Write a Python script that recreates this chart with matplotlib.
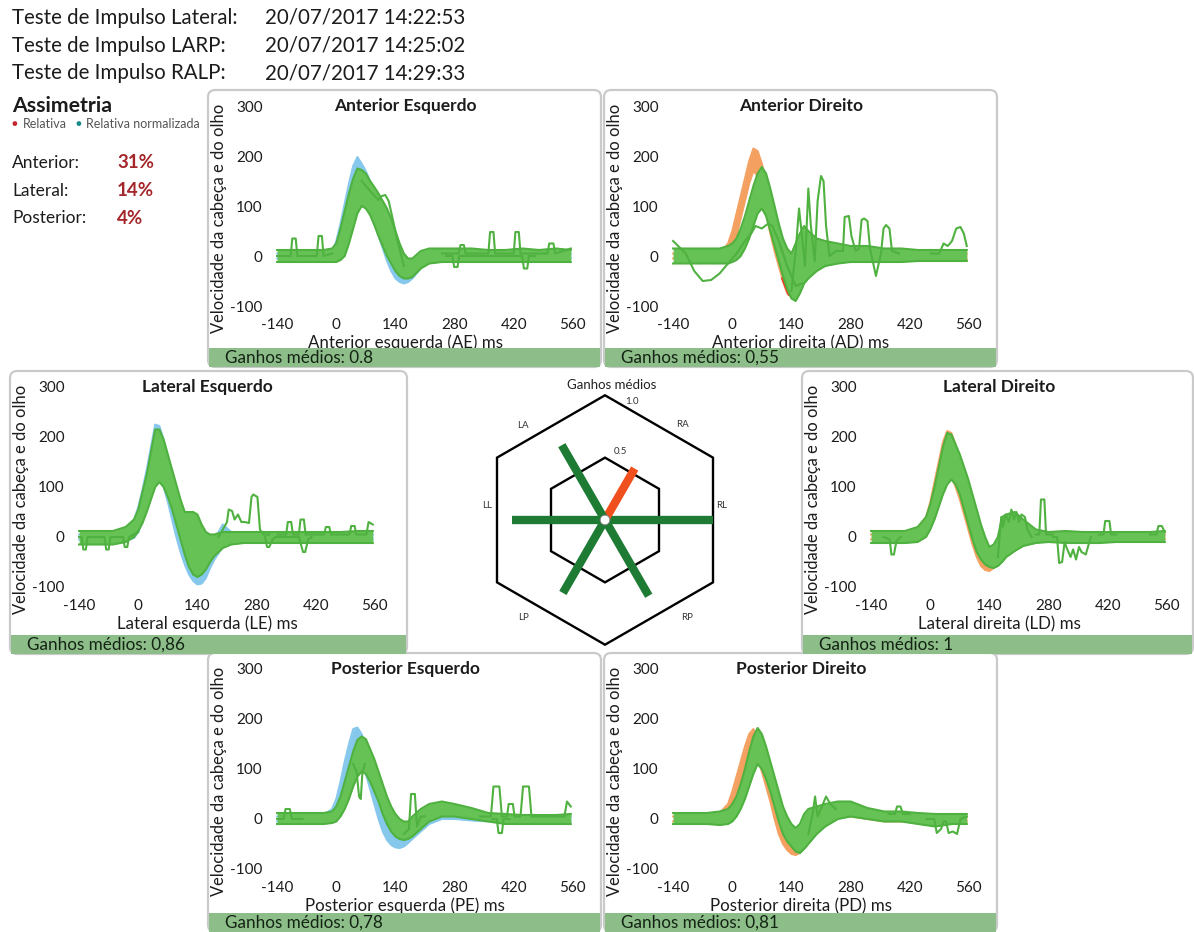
import matplotlib
matplotlib.use('Agg')
import matplotlib.pyplot as plt
from matplotlib.patches import FancyBboxPatch, Rectangle, Circle, Polygon
import numpy as np

# ---------------------------------------------------------------- data
T = [-140, -100, -60, -30, -10, 0, 10, 20, 30, 40, 50, 60, 70, 80, 90, 100, 110, 120,
     130, 140, 150, 160, 170, 180, 200, 220, 250, 280, 320, 360, 400, 440, 480, 520, 555]

x_ticks = [-140, 0, 140, 280, 420, 560]
y_ticks = [-100, 0, 100, 200, 300]

# Anterior Esquerdo (head = blue)
ae_head_hi = [5, 5, 5, 5, 8, 30, 65, 105, 145, 180, 198, 185, 170, 150, 135, 118, 100, 80,
              55, 30, 5, -15, -20, -20, -5, 5, 5, 5, 5, 5, 5, 5, 5, 5, 5]
ae_head_lo = [-5, -5, -5, -5, -5, -5, 5, 20, 45, 80, 110, 120, 110, 90, 65, 40, 15, -10,
              -30, -45, -52, -55, -52, -45, -25, -10, -5, -5, -5, -5, -5, -5, -5, -5, -5]
ae_eye_hi = [12, 12, 12, 12, 15, 25, 55, 90, 125, 155, 175, 172, 165, 150, 138, 125, 110, 95,
             75, 50, 25, 5, -5, -5, 10, 15, 15, 15, 15, 12, 12, 15, 12, 15, 12]
ae_eye_lo = [-12, -12, -12, -12, -12, -12, -8, 0, 25, 55, 85, 100, 95, 82, 62, 40, 20, 0,
             -15, -30, -40, -45, -45, -42, -25, -15, -12, -12, -12, -12, -12, -12, -12, -12, -12]
ae_extra = [
    ([-140, -108, -104, -96, -92, -46, -42, -34, -30, -10], [0, 0, 35, 35, 0, 0, 40, 40, 0, 5]),
    ([60, 80, 100, 108, 116, 124, 132, 145, 160], [150, 130, 112, 120, 122, 110, 80, 30, -20]),
    ([250, 290, 294, 302, 306, 360, 364, 372, 376, 420, 424, 432, 436, 500, 504, 514, 518, 555],
     [5, 5, 22, 22, 5, 5, 48, 48, 5, 5, 48, 48, 5, 5, 25, 25, 5, 15]),
    ([260, 275, 279, 287, 291, 440, 444, 452, 456, 470], [0, 0, -22, -22, 0, 0, -25, -25, 0, 0]),
]

# Anterior Direito (head = orange)
ad_head_hi = [5, 5, 5, 5, 25, 50, 85, 120, 155, 190, 215, 210, 185, 150, 110, 70, 35, 5,
              -25, -40, -35, -20, -10, -5, 5, 20, 10, 8, 5, 5, 5, 5, 5, 5, 5]
ad_head_lo = [-5, -8, -12, -8, 0, 15, 40, 75, 110, 145, 170, 160, 125, 85, 45, 10, -20, -50,
              -75, -82, -70, -50, -35, -25, -15, -10, -10, -8, -8, -8, -8, -8, -8, -8, -8]
ad_eye_hi = [15, 15, 15, 15, 20, 25, 35, 55, 80, 110, 140, 165, 178, 165, 135, 100, 65, 35,
             15, 5, 25, 45, 60, 50, 35, 30, 25, 20, 20, 15, 15, 12, 12, 12, 12]
ad_eye_lo = [-15, -15, -15, -15, -15, -12, -8, 0, 15, 35, 60, 85, 95, 80, 50, 20, -10, -40,
             -65, -85, -90, -75, -55, -45, -30, -20, -15, -12, -12, -12, -12, -10, -10, -10, -10]
ad_extra = [
    ([140, 150, 158, 165, 172, 180, 186, 195, 202, 210, 216, 222, 230, 245],
     [-70, 10, 95, 40, -20, 135, 60, -10, 110, 160, 150, 60, 0, 10]),
    ([-140, -110, -90, -70, -50, -30, -10, 10, 30, 45, 55, 70, 85, 95, 110, 130, 150, 165],
     [30, 5, -30, -50, -48, -35, -15, 5, 30, 45, 60, 55, 65, 60, 30, -20, -60, -55]),
    ([250, 262, 266, 276, 282, 292, 300, 306, 312, 320, 326, 340, 352, 358, 364, 372, 378, 395],
     [10, 10, 78, 80, 40, 10, 15, 72, 75, 70, 15, -40, 5, 55, 62, 55, 10, 5]),
    ([470, 490, 500, 510, 520, 530, 540, 548, 555], [5, 5, 25, 20, 30, 55, 58, 45, 20]),
]
ad_red = ([118, 126, 134, 142, 150], [-45, -62, -78, -70, -50])

# Lateral Esquerdo (head = blue)
le_head_hi = [5, 5, 5, 15, 35, 60, 95, 135, 180, 225, 222, 195, 160, 120, 85, 50, 20, -10,
              -35, -50, -50, -35, -15, -5, 25, 10, 5, 5, 5, 5, 5, 5, 5, 5, 5]
le_head_lo = [-5, -5, -5, -8, -2, 10, 30, 55, 85, 115, 120, 100, 70, 35, 0, -30, -55, -75,
              -88, -95, -93, -82, -62, -45, -20, -10, -5, -5, -5, -5, -5, -5, -5, -5, -5]
le_eye_hi = [12, 12, 12, 20, 35, 55, 90, 125, 170, 215, 215, 195, 165, 135, 105, 75, 50, 50,
             50, 45, 25, 10, 5, 5, 10, 10, 10, 10, 10, 10, 10, 10, 10, 12, 12]
le_eye_lo = [-15, -15, -15, -10, 0, 12, 28, 50, 75, 100, 110, 100, 80, 55, 25, -5, -35, -60,
             -75, -80, -75, -65, -50, -38, -22, -15, -12, -12, -12, -12, -12, -12, -12, -12, -12]
le_extra = [
    ([-140, -134, -130, -124, -120, -80, -76, -70, -66, -36, -32, -26, -22, 0],
     [0, 0, -25, -25, 0, 0, -25, -25, 0, 0, -20, -20, 0, 10]),
    ([190, 200, 210, 214, 222, 228, 236, 244, 252, 262, 268, 272, 282, 288, 296, 310],
     [0, 15, 30, 55, 52, 35, 45, 30, 30, 28, 80, 85, 80, 15, 5, 5]),
    ([330, 350, 354, 362, 366, 380, 384, 392, 396, 440, 444, 452, 456, 500, 504, 512, 516, 540, 545, 555],
     [5, 5, 30, 30, 5, 5, 35, 35, 5, 5, 20, 20, 5, 5, 22, 22, 5, 5, 30, 25]),
    ([300, 305, 310, 318, 325, 380, 390, 395, 402, 410], [0, -20, -20, -5, 0, 0, -30, -30, -5, 0]),
]

# Lateral Direito (head = orange)
ld_head_hi = [5, 5, 5, 15, 40, 70, 110, 150, 190, 212, 208, 185, 150, 115, 80, 45, 15, -10,
              -30, -40, -35, -20, -10, -5, 0, 5, 5, 10, 10, 5, 5, 5, 5, 5, 5]
ld_head_lo = [-5, -5, -5, -5, 5, 20, 45, 75, 105, 125, 120, 100, 75, 45, 15, -15, -40, -58,
              -66, -68, -62, -50, -35, -25, -15, -10, -5, -5, -5, -5, -5, -5, -5, -5, -5]
ld_eye_hi = [12, 12, 12, 20, 40, 65, 100, 140, 180, 208, 205, 185, 165, 140, 115, 85, 55, 25,
             0, -20, -15, 0, 40, 45, 50, 35, 15, 10, 12, 10, 10, 10, 10, 10, 12]
ld_eye_lo = [-12, -12, -12, -10, 0, 15, 35, 60, 85, 105, 115, 105, 85, 55, 25, -5, -30, -45,
             -55, -60, -62, -58, -50, -40, -28, -18, -12, -10, -12, -12, -12, -10, -10, -10, -10]
ld_extra = [
    ([-110, -96, -92, -86, -80, -70], [0, -5, -35, -35, -8, 0]),
    ([160, 168, 172, 178, 186, 192, 198, 204, 210, 216, 224, 230, 240],
     [-40, 40, 20, 45, 30, 55, 35, 50, 30, 45, 40, 15, 0]),
    ([250, 258, 262, 270, 274, 290], [5, 5, 75, 75, 5, 5]),
    ([290, 300, 305, 312, 318, 322, 332, 338, 345, 352, 358, 368, 380],
     [0, 0, -52, -50, -10, -20, -40, -25, -45, -20, -30, -35, 0]),
    ([400, 410, 414, 424, 428, 440], [5, 5, 32, 32, 5, 5]),
    ([520, 535, 540, 548, 555], [5, 5, 22, 22, 10]),
]

# Posterior Esquerdo (head = blue)
pe_head_hi = [5, 5, 5, 8, 20, 40, 75, 115, 150, 180, 183, 170, 145, 115, 85, 55, 25, 0,
              -20, -35, -42, -42, -35, -25, -8, 10, 20, 20, 15, 8, 5, 5, 5, 5, 5]
pe_head_lo = [-5, -5, -5, -3, 0, 10, 30, 60, 90, 115, 125, 115, 90, 60, 30, 0, -25, -42,
              -52, -57, -58, -55, -48, -40, -25, -10, 0, 0, -3, -5, -5, -5, -5, -5, -5]
pe_eye_hi = [12, 12, 12, 12, 15, 25, 45, 75, 105, 135, 158, 165, 160, 140, 120, 95, 70, 45,
             25, 10, 0, -5, -5, 5, 20, 30, 35, 30, 22, 12, 10, 8, 8, 8, 10]
pe_eye_lo = [-10, -10, -10, -10, -8, -5, 5, 20, 40, 65, 85, 95, 90, 75, 55, 35, 10, -10,
             -25, -35, -40, -42, -40, -35, -20, -5, 5, 5, 0, -5, -10, -10, -10, -10, -10]
pe_extra = [
    ([40, 48, 54, 58, 62, 68], [110, 95, 45, 40, 95, 110]),
    ([160, 172, 177, 186, 191, 200, 210], [-30, -20, 50, 50, -15, 5, 5]),
    ([340, 366, 372, 386, 392, 404, 408, 418, 422, 436, 442, 456, 462, 480, 540, 546, 555],
     [5, 5, 65, 65, 5, 5, 30, 30, 5, 5, 65, 65, 5, 5, 5, 35, 25]),
    ([370, 380, 384, 392, 396, 410], [0, 0, -28, -28, 0, 0]),
    ([-140, -125, -120, -110, -105, -80], [0, 0, 20, 20, 0, 0]),
]

# Posterior Direito (head = orange)
pd_head_hi = [5, 5, 5, 12, 30, 55, 85, 115, 145, 170, 180, 165, 140, 110, 80, 45, 15, -15,
              -35, -50, -55, -45, -30, -15, 0, 15, 25, 25, 15, 5, 5, 5, 5, 5, 5]
pd_head_lo = [-5, -5, -5, 0, 8, 25, 45, 70, 100, 125, 135, 120, 95, 65, 35, 0, -30, -50,
              -62, -70, -72, -68, -55, -40, -20, -5, 5, 5, 0, -5, -5, -5, -5, -5, -5]
pd_eye_hi = [12, 12, 12, 15, 20, 30, 45, 70, 100, 135, 165, 182, 170, 145, 115, 85, 55, 25,
             5, -10, -18, -10, 10, 20, 25, 30, 35, 35, 22, 15, 15, 12, 10, 10, 10]
pd_eye_lo = [-10, -10, -10, -12, -10, -5, 5, 20, 40, 65, 90, 110, 100, 80, 55, 25, -5, -30,
             -45, -55, -65, -68, -60, -50, -30, -15, 0, 5, 0, -5, -5, -10, -15, -10, -10]
pd_extra = [
    ([180, 190, 196, 202, 212, 222, 232, 245], [-30, 10, 45, 5, 25, 45, 30, 20]),
    ([460, 478, 484, 494, 500, 506, 512, 522, 532, 540, 555], [0, 0, -28, -20, -5, -5, -28, -25, -30, 0, 5]),
    ([370, 385, 390, 398, 404, 420], [10, 10, 25, 25, 10, 10]),
]

# radar (Ganhos médios)
radar_labels = ['RL', 'RA', 'LA', 'LL', 'LP', 'RP']
radar_angles = [0, 60, 120, 180, 240, 300]
radar_gains = [1.0, 0.55, 0.8, 0.86, 0.78, 0.81]
radar_levels = [0.5, 1.0]

header_names = ['Teste de Impulso Lateral:', 'Teste de Impulso LARP:', 'Teste de Impulso RALP:']
header_dates = ['20/07/2017 14:22:53', '20/07/2017 14:25:02', '20/07/2017 14:29:33']
asym_names = ['Anterior:', 'Lateral:', 'Posterior:']
asym_values = ['31%', '14%', '4%']

# ---------------------------------------------------------------- style
plt.rcParams['font.family'] = ['Lato', 'DejaVu Sans']
plt.rcParams['axes.unicode_minus'] = False
W, H = 1194, 932
fig = plt.figure(figsize=(W / 100, H / 100), dpi=100)
fig.patch.set_facecolor('white')

BLUE = '#86c8ec'
ORANGE = '#f3a060'
GREEN = '#66c255'
GREEN_EDGE = '#4fb13f'
FOOT = '#8dbd89'
TXT = '#1c1c1c'


def fx(x):
    return x / W


def fy(y):
    return 1 - y / H


def add_panel(left, top, width, height, title, xlabel, gain, head_c,
              head_hi, head_lo, eye_hi, eye_lo, extras, red=None):
    frame = FancyBboxPatch((fx(left), fy(top + height)), width / W, height / H,
                           boxstyle='round,pad=0,rounding_size=0.006',
                           mutation_aspect=W / H,
                           transform=fig.transFigure, fc='white', ec='#cacaca',
                           lw=1.6, zorder=-1)
    fig.patches.append(frame)
    foot = Rectangle((fx(left + 1), fy(top + height)), (width - 2) / W, 19 / H,
                     transform=fig.transFigure, fc=FOOT, ec='none', zorder=4)
    fig.patches.append(foot)
    fig.text(fx(left + 17), fy(top + height - 9), gain, fontsize=12.3, color='#142414',
             va='center', ha='left', zorder=5)
    ax_l, ax_t = left + 67, top + 13.5
    ax = fig.add_axes([fx(ax_l), fy(ax_t + 205), 300 / W, 205 / H])
    ax.set_facecolor('none')
    ax.fill_between(T, head_lo, head_hi, color=head_c, lw=0, zorder=1.0)
    ax.plot(T, head_hi, color=head_c, lw=1.4, zorder=1.1)
    ax.plot(T, head_lo, color=head_c, lw=1.4, zorder=1.1)
    if red is not None:
        ax.plot(red[0], red[1], color='#e8412a', lw=1.6, zorder=1.2)
    ax.fill_between(T, eye_lo, eye_hi, color=GREEN, lw=0, zorder=1.3)
    ax.plot(T, eye_hi, color=GREEN_EDGE, lw=1.5, zorder=1.4)
    ax.plot(T, eye_lo, color=GREEN_EDGE, lw=1.5, zorder=1.4)
    for tx, vy in extras:
        ax.plot(tx, vy, color=GREEN_EDGE, lw=1.5, zorder=1.5)
    ax.set_xlim(-145, 565)
    ax.set_ylim(-105, 305)
    ax.set_xticks(x_ticks)
    ax.set_yticks(y_ticks)
    ax.tick_params(length=0, labelsize=11, labelcolor=TXT)
    ax.tick_params(axis='y', pad=9)
    ax.tick_params(axis='x', pad=7)
    for s in ax.spines.values():
        s.set_visible(False)
    cx = left + 197
    fig.text(fx(cx), fy(top + 16), title, fontsize=12.5, fontweight='bold',
             color=TXT, ha='center', va='center')
    fig.text(fx(cx), fy(top + 253), xlabel, fontsize=12.2, color=TXT,
             ha='center', va='center', zorder=3)
    fig.text(fx(left + 11), fy(top + 128), 'Velocidade da cabeça e do olho',
             fontsize=11.9, color=TXT, rotation=90, ha='center', va='center')
    return ax


add_panel(208, 90, 393, 277, 'Anterior Esquerdo', 'Anterior esquerda (AE) ms',
          'Ganhos médios: 0.8', BLUE, ae_head_hi, ae_head_lo, ae_eye_hi, ae_eye_lo, ae_extra)
add_panel(604, 90, 393, 277, 'Anterior Direito', 'Anterior direita (AD) ms',
          'Ganhos médios: 0,55', ORANGE, ad_head_hi, ad_head_lo, ad_eye_hi, ad_eye_lo, ad_extra,
          red=ad_red)
add_panel(10, 371, 397, 283, 'Lateral Esquerdo', 'Lateral esquerda (LE) ms',
          'Ganhos médios: 0,86', BLUE, le_head_hi, le_head_lo, le_eye_hi, le_eye_lo, le_extra)
add_panel(802, 371, 391, 283, 'Lateral Direito', 'Lateral direita (LD) ms',
          'Ganhos médios: 1', ORANGE, ld_head_hi, ld_head_lo, ld_eye_hi, ld_eye_lo, ld_extra)
add_panel(208, 653, 393, 279, 'Posterior Esquerdo', 'Posterior esquerda (PE) ms',
          'Ganhos médios: 0,78', BLUE, pe_head_hi, pe_head_lo, pe_eye_hi, pe_eye_lo, pe_extra)
add_panel(604, 653, 393, 279, 'Posterior Direito', 'Posterior direita (PD) ms',
          'Ganhos médios: 0,81', ORANGE, pd_head_hi, pd_head_lo, pd_eye_hi, pd_eye_lo, pd_extra)

# ---------------------------------------------------------------- radar
rax = fig.add_axes([fx(475), fy(650), 260 / W, 260 / H])
lim = 130 / 108
rax.set_xlim(-lim, lim)
rax.set_ylim(-lim, lim)
rax.set_aspect('equal')
rax.axis('off')
vert_ang = np.deg2rad(np.arange(90, 450, 60))
for lv in radar_levels:
    r = lv / np.cos(np.deg2rad(30))
    rax.add_patch(Polygon(np.column_stack([r * np.cos(vert_ang), r * np.sin(vert_ang)]),
                          closed=True, fill=False, ec='black', lw=1.7, zorder=2))
for ang, g in zip(radar_angles, radar_gains):
    a = np.deg2rad(ang)
    col = '#f0501e' if g < 0.7 else '#1e7b34'
    rax.plot([0, g * np.cos(a)], [0, g * np.sin(a)], color=col, lw=6,
             solid_capstyle='butt', zorder=3)
rax.add_patch(Circle((0, 0), 0.045, fc='white', ec='#777777', lw=0.6, zorder=5))
label_pos = {'LA': (131, 1.16), 'RA': (51, 1.14), 'RL': (7, 1.09), 'LL': (173, 1.10),
             'LP': (230, 1.18), 'RP': (310, 1.18)}
for lab in radar_labels:
    ang, rr = label_pos[lab]
    a = np.deg2rad(ang)
    rax.text(rr * np.cos(a), rr * np.sin(a), lab, fontsize=7, color='#333333',
             ha='center', va='center')
rax.text(0.25, 1.10, '1.0', fontsize=7, color='#333333', ha='center', va='center')
rax.text(0.14, 0.63, '0.5', fontsize=7, color='#333333', ha='center', va='center')
fig.text(fx(612), fy(385), 'Ganhos médios', fontsize=9.5, color='#222222',
         ha='center', va='center')

# ---------------------------------------------------------------- header
for i, (n, d) in enumerate(zip(header_names, header_dates)):
    yy = 18 + i * 27.5
    fig.text(fx(12), fy(yy), n, fontsize=14.8, color=TXT, ha='left', va='center')
    fig.text(fx(265), fy(yy), d, fontsize=14.8, color=TXT, ha='left', va='center')

fig.text(fx(12), fy(106), 'Assimetria', fontsize=15.3, fontweight='bold', color=TXT,
         ha='left', va='center')
fig.text(fx(11), fy(124), '●', fontsize=7, color='#c0282d', ha='left', va='center', zorder=-2)
fig.text(fx(23), fy(124.5), 'Relativa', fontsize=9, color='#555555', ha='left', va='center', zorder=-2)
fig.text(fx(76), fy(124), '●', fontsize=7, color='#138a8a', ha='left', va='center', zorder=-2)
fig.text(fx(86), fy(124.5), 'Relativa normalizada', fontsize=9, color='#555555',
         ha='left', va='center', zorder=-2)
for i, (n, v) in enumerate(zip(asym_names, asym_values)):
    yy = 163 + i * 27.5
    fig.text(fx(12), fy(yy), n, fontsize=12.5, color=TXT, ha='left', va='center')
    fig.text(fx(117), fy(yy), v, fontsize=13.5, fontweight='bold', color='#a3262a',
             ha='left', va='center')

fig.savefig('out.png', dpi=100)
